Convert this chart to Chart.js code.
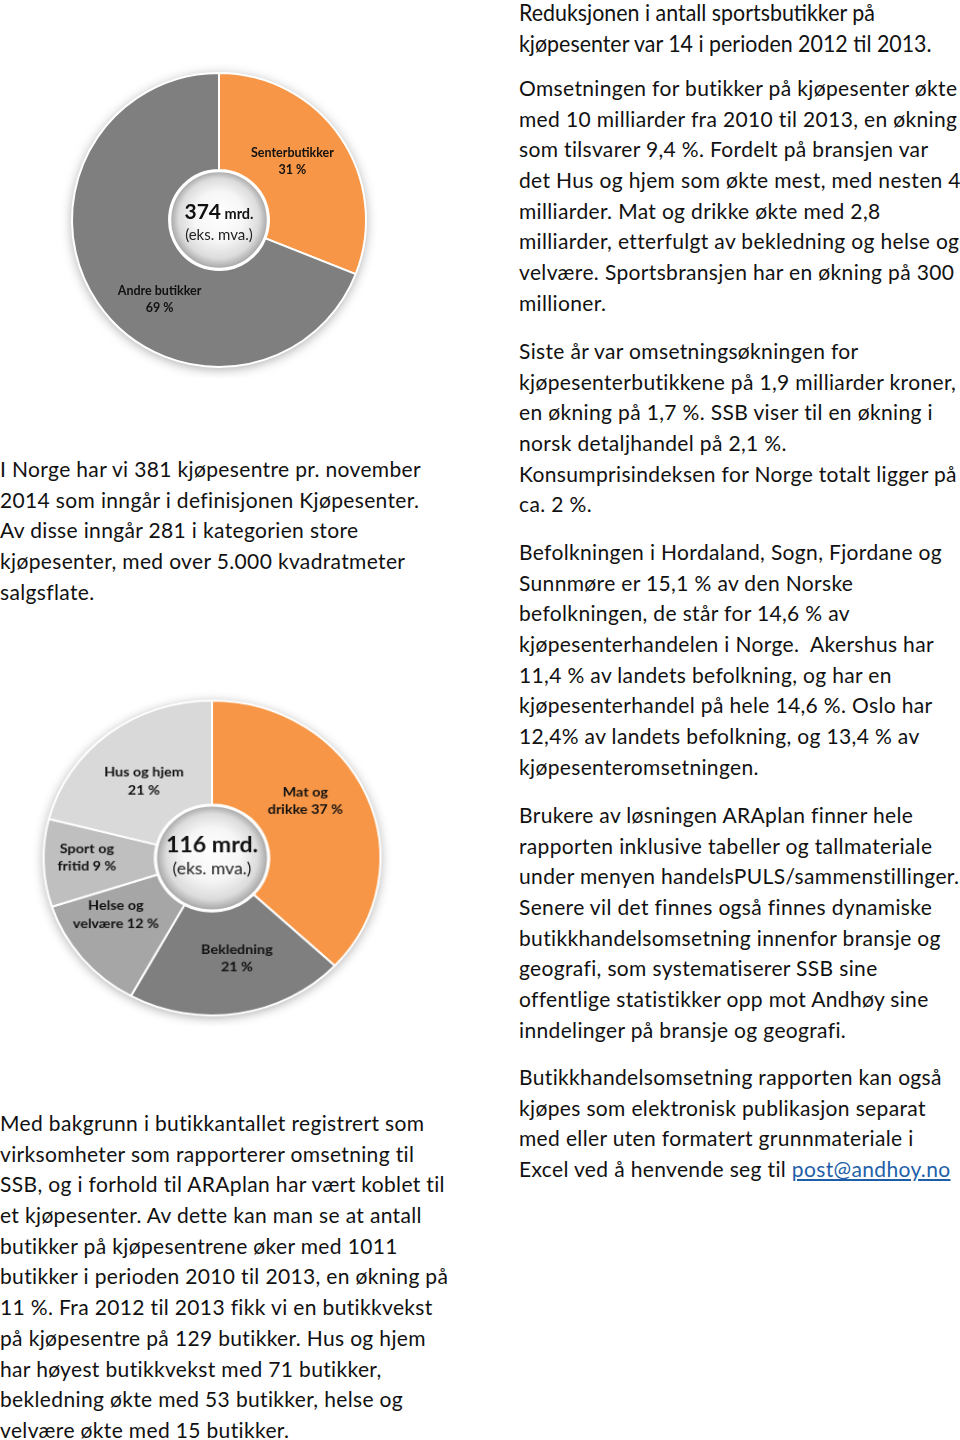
<!DOCTYPE html>
<html>
<head>
<meta charset="utf-8">
<script src="https://cdn.jsdelivr.net/npm/chart.js@4"></script>
<style>
  html, body { margin: 0; padding: 0; background: #fff; }
  body { width: 960px; height: 1440px; position: relative; overflow: hidden;
         font-family: Lato, "Open Sans", sans-serif; color: #111; }
  .p { position: absolute; font-size: 21px; letter-spacing: 0.35px; line-height: 30.7px; white-space: nowrap; }
  .p div { height: 30.7px; }
  .cond { font-size: 23px; letter-spacing: 0; transform: scaleX(0.93); transform-origin: left top; }
  a { color: #1f5fa9; text-decoration: underline; }
  canvas { position: absolute; }
  #bottomChart { transform: scale(1.027, 0.96); transform-origin: 175px 175px; }
</style>
</head>
<body>

<canvas id="topChart" width="316" height="316" style="left:61px;top:62px"></canvas>
<canvas id="bottomChart" width="350" height="350" style="left:37px;top:683px"></canvas>

<div class="p cond" style="left:519px;top:-3px">
  <div>Reduksjonen i antall sportsbutikker på</div>
  <div>kjøpesenter var 14 i perioden 2012 til 2013.</div>
</div>

<div class="p" style="left:519px;top:73px">
  <div>Omsetningen for butikker på kjøpesenter økte</div>
  <div>med 10 milliarder fra 2010 til 2013, en økning</div>
  <div>som tilsvarer 9,4 %. Fordelt på bransjen var</div>
  <div>det Hus og hjem som økte mest, med nesten 4</div>
  <div>milliarder. Mat og drikke økte med 2,8</div>
  <div>milliarder, etterfulgt av bekledning og helse og</div>
  <div>velvære. Sportsbransjen har en økning på 300</div>
  <div>millioner.</div>
</div>

<div class="p" style="left:519px;top:336px">
  <div>Siste år var omsetningsøkningen for</div>
  <div>kjøpesenterbutikkene på 1,9 milliarder kroner,</div>
  <div>en økning på 1,7 %. SSB viser til en økning i</div>
  <div>norsk detaljhandel på 2,1 %.</div>
  <div>Konsumprisindeksen for Norge totalt ligger på</div>
  <div>ca. 2 %.</div>
</div>

<div class="p" style="left:519px;top:537px">
  <div>Befolkningen i Hordaland, Sogn, Fjordane og</div>
  <div>Sunnmøre er 15,1 % av den Norske</div>
  <div>befolkningen, de står for 14,6 % av</div>
  <div>kjøpesenterhandelen i Norge.&nbsp; Akershus har</div>
  <div>11,4 % av landets befolkning, og har en</div>
  <div>kjøpesenterhandel på hele 14,6 %. Oslo har</div>
  <div>12,4% av landets befolkning, og 13,4 % av</div>
  <div>kjøpesenteromsetningen.</div>
</div>

<div class="p" style="left:519px;top:800px">
  <div>Brukere av løsningen ARAplan finner hele</div>
  <div>rapporten inklusive tabeller og tallmateriale</div>
  <div>under menyen handelsPULS/sammenstillinger.</div>
  <div>Senere vil det finnes også finnes dynamiske</div>
  <div>butikkhandelsomsetning innenfor bransje og</div>
  <div>geografi, som systematiserer SSB sine</div>
  <div>offentlige statistikker opp mot Andhøy sine</div>
  <div>inndelinger på bransje og geografi.</div>
</div>

<div class="p" style="left:519px;top:1062px">
  <div>Butikkhandelsomsetning rapporten kan også</div>
  <div>kjøpes som elektronisk publikasjon separat</div>
  <div>med eller uten formatert grunnmateriale i</div>
  <div>Excel ved å henvende seg til <a>post@andhoy.no</a></div>
</div>

<div class="p" style="left:0px;top:454px">
  <div>I Norge har vi 381 kjøpesentre pr. november</div>
  <div>2014 som inngår i definisjonen Kjøpesenter.</div>
  <div>Av disse inngår 281 i kategorien store</div>
  <div>kjøpesenter, med over 5.000 kvadratmeter</div>
  <div>salgsflate.</div>
</div>

<div class="p" style="left:0px;top:1108px">
  <div>Med bakgrunn i butikkantallet registrert som</div>
  <div>virksomheter som rapporterer omsetning til</div>
  <div>SSB, og i forhold til ARAplan har vært koblet til</div>
  <div>et kjøpesenter. Av dette kan man se at antall</div>
  <div>butikker på kjøpesentrene øker med 1011</div>
  <div>butikker i perioden 2010 til 2013, en økning på</div>
  <div>11 %. Fra 2012 til 2013 fikk vi en butikkvekst</div>
  <div>på kjøpesentre på 129 butikker. Hus og hjem</div>
  <div>har høyest butikkvekst med 71 butikker,</div>
  <div>bekledning økte med 53 butikker, helse og</div>
  <div>velvære økte med 15 butikker.</div>
</div>

<script>
// Omsetning, alle butikker vs. kjøpesenter
const topLabels = ['Senterbutikker', 'Andre butikker'];
const topValues = [31, 69];
const topLabelLines = [['Senterbutikker', '{v} %'], ['Andre butikker', '{v} %']];
const topTotal = '374';

// Kjøpesenteromsetning fordelt på bransje
const bottomLabels = ['Mat og drikke', 'Bekledning', 'Helse og velvære', 'Sport og fritid', 'Hus og hjem'];
const bottomValues = [37, 21, 12, 9, 21];
const bottomLabelLines = [
  ['Mat og', 'drikke {v} %'],
  ['Bekledning', '{v} %'],
  ['Helse og', 'velvære {v} %'],
  ['Sport og', 'fritid {v} %'],
  ['Hus og hjem', '{v} %']
];
const bottomTotal = '116';

const ORANGE = '#f79646';

// skygge rundt ringen + kule i midten + tekst
function ringPlugin(cfg) {
  return {
    id: 'ring',
    beforeDatasetsDraw(chart) {
      const arc = chart.getDatasetMeta(0).data[0];
      const ctx = chart.ctx;
      ctx.save();
      ctx.beginPath();
      ctx.arc(arc.x, arc.y, arc.outerRadius, 0, Math.PI * 2);
      ctx.fillStyle = '#fff';
      ctx.shadowColor = 'rgba(0,0,0,0.35)';
      ctx.shadowBlur = 12;
      ctx.shadowOffsetY = 2;
      ctx.fill();
      ctx.restore();
    },
    afterDatasetsDraw(chart) {
      const meta = chart.getDatasetMeta(0);
      const arc0 = meta.data[0];
      const ctx = chart.ctx;
      const cx = arc0.x, cy = arc0.y, r = arc0.innerRadius;

      ctx.save();
      const g = ctx.createRadialGradient(cx, cy - r * 0.15, 0, cx, cy, r);
      g.addColorStop(0, '#ffffff');
      g.addColorStop(0.5, '#f6f6f6');
      g.addColorStop(0.8, '#dcdcdc');
      g.addColorStop(1, '#9e9e9e');
      ctx.beginPath();
      ctx.arc(cx, cy, r - 1, 0, Math.PI * 2);
      ctx.fillStyle = g;
      ctx.fill();
      ctx.lineWidth = 2.5;
      ctx.strokeStyle = '#ffffff';
      ctx.stroke();

      // midttekst
      ctx.fillStyle = '#111';
      ctx.textBaseline = 'alphabetic';
      ctx.font = 'bold ' + cfg.bigSize + 'px Lato';
      const w1 = ctx.measureText(cfg.total).width;
      ctx.font = 'bold ' + cfg.unitSize + 'px Lato';
      const unit = ' mrd.';
      const w2 = ctx.measureText(unit).width;
      let x = cx - (w1 + w2) / 2;
      ctx.textAlign = 'left';
      ctx.font = 'bold ' + cfg.bigSize + 'px Lato';
      ctx.fillText(cfg.total, x, cy + cfg.line1);
      ctx.font = 'bold ' + cfg.unitSize + 'px Lato';
      ctx.fillText(unit, x + w1, cy + cfg.line1);
      ctx.textAlign = 'center';
      ctx.font = cfg.subSize + 'px Lato';
      ctx.fillStyle = '#222';
      ctx.fillText('(eks. mva.)', cx, cy + cfg.line2);

      // etiketter på segmentene
      ctx.font = 'bold ' + cfg.labelSize + 'px Lato';
      ctx.fillStyle = '#111';
      ctx.textBaseline = 'middle';
      const values = chart.data.datasets[0].data;
      meta.data.forEach((arc, i) => {
        const p = arc.tooltipPosition();
        const off = cfg.offsets[i];
        const lines = cfg.lines[i].map(s => s.replace('{v}', values[i]));
        const lh = cfg.labelSize + 4.5;
        lines.forEach((s, k) => {
          ctx.fillText(s, p.x + off[0], p.y + off[1] + (k - (lines.length - 1) / 2) * lh);
        });
      });
      ctx.restore();
    }
  };
}

function makeChart(id, labels, values, colors, cfg) {
  return new Chart(document.getElementById(id), {
    type: 'doughnut',
    data: {
      labels: labels,
      datasets: [{
        data: values,
        backgroundColor: colors,
        borderColor: '#ffffff',
        borderWidth: 2
      }]
    },
    options: {
      responsive: false,
      animation: false,
      devicePixelRatio: 1,
      cutout: '34%',
      layout: { padding: 10 },
      plugins: {
        legend: { display: false },
        tooltip: { enabled: false }
      }
    },
    plugins: [ringPlugin(cfg)]
  });
}

makeChart('topChart', topLabels, topValues, [ORANGE, '#7f7f7f'], {
  total: topTotal, bigSize: 21, unitSize: 14.5, subSize: 15, line1: -1, line2: 20,
  labelSize: 12.5, lines: topLabelLines,
  offsets: [[-8, -3], [22, 24]]
});

makeChart('bottomChart', bottomLabels, bottomValues,
  [ORANGE, '#7f7f7f', '#a6a6a6', '#bfbfbf', '#d9d9d9'], {
  total: bottomTotal, bigSize: 22.5, unitSize: 22.5, subSize: 17, line1: -6, line2: 17,
  labelSize: 14, lines: bottomLabelLines,
  offsets: [[-10, -16], [7, -4], [-9, -11], [-12, -4], [1, 7]]
});
</script>
</body>
</html>
